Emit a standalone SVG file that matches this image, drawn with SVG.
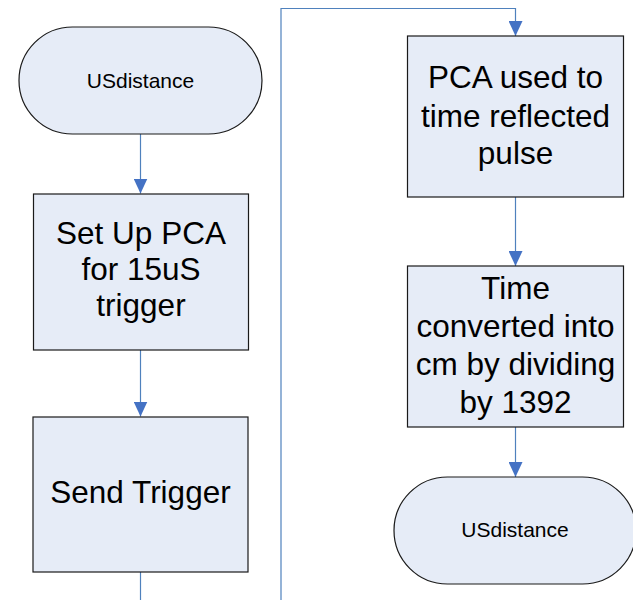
<svg xmlns="http://www.w3.org/2000/svg" width="633" height="600" viewBox="0 0 633 600">
<defs>
<style>
.node{fill:#E6ECF7;stroke:#1a1a1a;stroke-width:1.2}
.big{font-family:"Liberation Sans",Arial,sans-serif;font-size:31.5px;fill:#000;text-anchor:middle}
.small{font-family:"Liberation Sans",Arial,sans-serif;font-size:21px;fill:#000;text-anchor:middle}
.conn{fill:none;stroke:#4F81BD;stroke-width:1.2}
</style>
<marker id="arr" viewBox="0 0 15 14" refX="15" refY="7" markerWidth="15" markerHeight="14" markerUnits="userSpaceOnUse" orient="auto">
<path d="M0,0 L15,7 L0,14 Z" fill="#4472C4"/>
</marker>
</defs>
<rect width="633" height="600" fill="#fff"/>
<g id="connectors">
<path class="conn" d="M140.5,134 V193.5" marker-end="url(#arr)"/>
<path class="conn" d="M140.5,350 V416.5" marker-end="url(#arr)"/>
<path class="conn" d="M140.5,572 V600"/>
<path class="conn" d="M281,600 V8.5 H515.5 V36" marker-end="url(#arr)"/>
<path class="conn" d="M515.5,197 V266" marker-end="url(#arr)"/>
<path class="conn" d="M515.5,427 V477" marker-end="url(#arr)"/>
</g>
<g id="start">
<rect class="node" x="19" y="27" width="243" height="107" rx="53.5" ry="53.5"/>
<text class="small" x="140.5" y="87.5">USdistance</text>
</g>
<g id="setup">
<rect class="node" x="33.5" y="194" width="215" height="156"/>
<text class="big" x="141" y="244">Set Up PCA</text>
<text class="big" x="141" y="280">for 15uS</text>
<text class="big" x="141" y="316">trigger</text>
</g>
<g id="send">
<rect class="node" x="33" y="417" width="215" height="155"/>
<text class="big" x="140.5" y="503">Send Trigger</text>
</g>
<g id="pca">
<rect class="node" x="407.5" y="36" width="216" height="161"/>
<text class="big" x="515.5" y="88">PCA used to</text>
<text class="big" x="515.5" y="126.5">time reflected</text>
<text class="big" x="515.5" y="164">pulse</text>
</g>
<g id="convert">
<rect class="node" x="407.5" y="266" width="216" height="161"/>
<text class="big" x="515.5" y="299">Time</text>
<text class="big" x="515.5" y="337">converted into</text>
<text class="big" x="515.5" y="375">cm by dividing</text>
<text class="big" x="515.5" y="413">by 1392</text>
</g>
<g id="end">
<rect class="node" x="394" y="477" width="242" height="107" rx="53.5" ry="53.5"/>
<text class="small" x="515" y="537">USdistance</text>
</g>
</svg>
